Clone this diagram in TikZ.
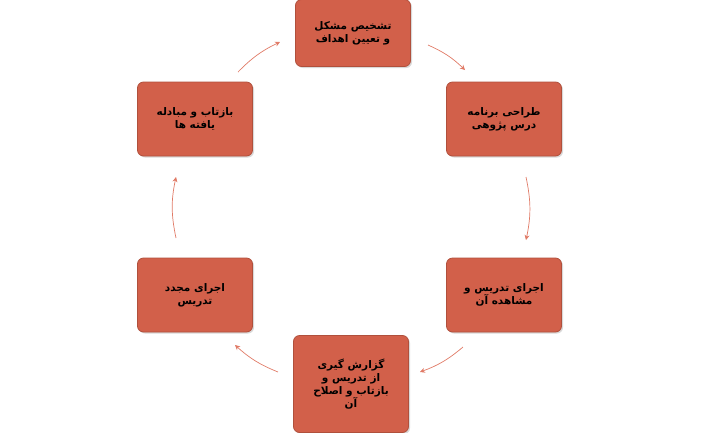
\documentclass[tikz,border=0pt]{standalone}
\usepackage{fontspec}
\TeXXeTstate=1
\newfontfamily\arabicfont[Script=Arabic]{DejaVu Sans}
\usetikzlibrary{arrows.meta,shadows}
\definecolor{boxfill}{HTML}{D2604A}
\definecolor{boxline}{HTML}{B0503C}
\definecolor{arr}{HTML}{E07A66}
\tikzset{
  stepbox/.style={draw=boxline, fill=boxfill, rounded corners=6pt, line width=0.8pt,
    minimum width=115pt, minimum height=74pt, align=center,
    font=\arabicfont\bfseries\fontsize{10.5}{13}\selectfont,
    drop shadow={shadow xshift=1.5pt, shadow yshift=-1.5pt, opacity=0.3}},
  conn/.style={draw=arr, line width=0.7pt, -{Stealth[length=5pt,width=5pt]}}
}
\begin{document}
\begin{tikzpicture}[x=1pt,y=-1pt]
\useasboundingbox (0,0) rectangle (702,432);
\node[stepbox, minimum height=67pt] (t) at (353,33) {\beginR تشخیص مشکل\endR\\\beginR و تعیین اهداف\endR};
\node[stepbox] (rt) at (504,119) {\beginR طراحی برنامه\endR\\\beginR درس پژوهی\endR};
\node[stepbox] (rb) at (504,295) {\beginR اجرای تدریس و\endR\\\beginR مشاهده آن\endR};
\node[stepbox, minimum height=97pt] (b) at (351,384) {\beginR گزارش گیری\endR\\\beginR از تدریس و\endR\\\beginR بازتاب و اصلاح\endR\\\beginR آن\endR};
\node[stepbox] (lb) at (195,295) {\beginR اجرای مجدد\endR\\\beginR تدریس\endR};
\node[stepbox] (lt) at (195,119) {\beginR بازتاب و مبادله\endR\\\beginR یافته ها\endR};
\coordinate (a1) at (428,45); \coordinate (a2) at (465,70);
\coordinate (b1) at (526,177); \coordinate (b2) at (526,240);
\coordinate (c1) at (463,347); \coordinate (c2) at (420,372);
\coordinate (d1) at (278,372); \coordinate (d2) at (235,345);
\coordinate (e1) at (176,238); \coordinate (e2) at (176,177);
\coordinate (f1) at (238,72); \coordinate (f2) at (280,42);
\draw[conn] (a1) to[bend left=10] (a2);
\draw[conn] (b1) to[bend left=12] (b2);
\draw[conn] (c1) to[bend left=10] (c2);
\draw[conn] (d1) to[bend left=10] (d2);
\draw[conn] (e1) to[bend left=12] (e2);
\draw[conn] (f1) to[bend left=10] (f2);
\end{tikzpicture}
\end{document}
